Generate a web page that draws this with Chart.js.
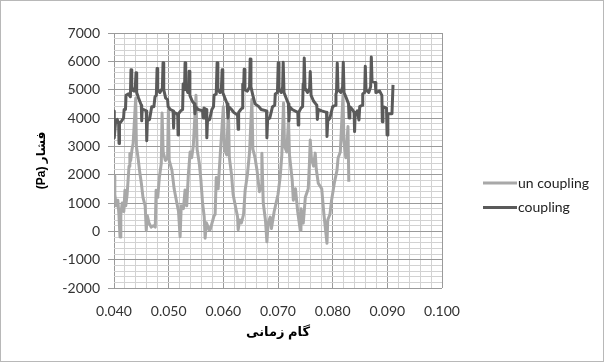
<!DOCTYPE html>
<html>
<head>
<meta charset="utf-8">
<script src="https://cdn.jsdelivr.net/npm/chart.js@4.4.1/dist/chart.umd.min.js"></script>
<style>
  html, body { margin: 0; padding: 0; background: #fff; }
  #box { width: 604px; height: 362px; box-sizing: border-box; border: 1px solid #b8b8b8; }
  canvas { display: block; }
</style>
</head>
<body>
<div id="box"><canvas id="pressure" width="602" height="360"></canvas></div>
<script>
// time step (s) and pressure (Pa)
let couplingTime = [
  0.04000, 0.04005, 0.04030, 0.04060, 0.04085, 0.04092, 0.04100, 0.04140,
  0.04175, 0.04185, 0.04210, 0.04220, 0.04260, 0.04300, 0.04311, 0.04325,
  0.04365, 0.04390, 0.04403, 0.04415, 0.04450, 0.04480, 0.04500, 0.04507,
  0.04515, 0.04540, 0.04590, 0.04599, 0.04610, 0.04650, 0.04690, 0.04730,
  0.04750, 0.04775, 0.04788, 0.04800, 0.04840, 0.04885, 0.04897, 0.04910,
  0.04945, 0.04980, 0.04990, 0.05030, 0.05081, 0.05090, 0.05100, 0.05150,
  0.05165, 0.05172, 0.05180, 0.05220, 0.05255, 0.05265, 0.05290, 0.05300,
  0.05312, 0.05350, 0.05365, 0.05374, 0.05388, 0.05430, 0.05470, 0.05480,
  0.05495, 0.05540, 0.05620, 0.05630, 0.05645, 0.05690, 0.05698, 0.05710,
  0.05750, 0.05790, 0.05820, 0.05830, 0.05870, 0.05886, 0.05900, 0.05940,
  0.05965, 0.05978, 0.05990, 0.06030, 0.06070, 0.06085, 0.06100, 0.06150,
  0.06190, 0.06260, 0.06271, 0.06280, 0.06320, 0.06345, 0.06355, 0.06370,
  0.06381, 0.06395, 0.06440, 0.06480, 0.06491, 0.06505, 0.06540, 0.06580,
  0.06650, 0.06692, 0.06790, 0.06797, 0.06810, 0.06850, 0.06900, 0.06940,
  0.06950, 0.06990, 0.07004, 0.07018, 0.07060, 0.07085, 0.07095, 0.07110,
  0.07150, 0.07190, 0.07200, 0.07212, 0.07260, 0.07362, 0.07370, 0.07380,
  0.07420, 0.07450, 0.07460, 0.07470, 0.07480, 0.07495, 0.07540, 0.07578,
  0.07590, 0.07605, 0.07650, 0.07690, 0.07710, 0.07720, 0.07735, 0.07800,
  0.07888, 0.07896, 0.07910, 0.07950, 0.08000, 0.08050, 0.08060, 0.08070,
  0.08084, 0.08098, 0.08150, 0.08182, 0.08194, 0.08208, 0.08250, 0.08290,
  0.08300, 0.08315, 0.08360, 0.08392, 0.08401, 0.08410, 0.08450, 0.08481,
  0.08495, 0.08540, 0.08550, 0.08585, 0.08597, 0.08610, 0.08660, 0.08695,
  0.08707, 0.08720, 0.08780, 0.08790, 0.08860, 0.08900, 0.08908, 0.08920,
  0.08985, 0.08995, 0.09010, 0.09085, 0.09104,
];
let couplingPa = [
  4250, 3300, 3900, 3950, 3800, 3100, 3800, 3900,
  4000, 4300, 4300, 4800, 4850, 4750, 5700, 5000,
  4950, 5100, 5600, 4900, 4700, 4550, 4450, 3900,
  4300, 4300, 4250, 3200, 3900, 3950, 4400, 4400,
  4750, 4800, 5750, 5000, 4900, 5050, 5950, 5000,
  4700, 4650, 4400, 4300, 4250, 3650, 4200, 4150,
  4100, 3400, 4150, 4250, 4300, 5200, 5000, 5950,
  5100, 4900, 5050, 5650, 4800, 4600, 4500, 4150,
  4400, 4300, 4250, 4000, 4350, 4300, 3300, 3900,
  3950, 4300, 4400, 4800, 4850, 5950, 5000, 4900,
  5050, 5700, 4900, 4700, 4500, 4000, 4400, 4300,
  4200, 4100, 3600, 4200, 4300, 4350, 5200, 5000,
  5720, 5000, 4950, 5100, 6080, 5100, 4800, 4500,
  4400, 4300, 4250, 3300, 3950, 4000, 4400, 4450,
  4850, 4900, 5950, 5000, 4900, 5100, 5970, 4900,
  4700, 4500, 3900, 4400, 4300, 4200, 3750, 4200,
  4350, 4400, 5200, 5000, 6120, 5050, 4900, 5050,
  5640, 4800, 4600, 4500, 4450, 3950, 4300, 4250,
  4200, 3350, 3900, 4000, 4400, 4450, 4850, 4900,
  5940, 5000, 4900, 5100, 5970, 4900, 4700, 4500,
  4000, 4400, 4300, 4200, 3520, 4100, 4250, 3930,
  4400, 4450, 4850, 4900, 5830, 5000, 4900, 5100,
  6150, 5300, 5250, 4900, 4950, 4800, 3870, 4400,
  4350, 3400, 4150, 4150, 5170,
];

let uncouplingTime = [
  0.04000, 0.04015, 0.04040, 0.04070, 0.04090, 0.04110, 0.04125, 0.04150,
  0.04180, 0.04200, 0.04215, 0.04240, 0.04275, 0.04290, 0.04305, 0.04330,
  0.04350, 0.04397, 0.04410, 0.04440, 0.04470, 0.04500, 0.04530, 0.04570,
  0.04590, 0.04610, 0.04640, 0.04680, 0.04720, 0.04755, 0.04770, 0.04800,
  0.04830, 0.04865, 0.04879, 0.04900, 0.04940, 0.04980, 0.04995, 0.05010,
  0.05060, 0.05100, 0.05150, 0.05180, 0.05209, 0.05230, 0.05270, 0.05300,
  0.05330, 0.05360, 0.05392, 0.05420, 0.05450, 0.05500, 0.05520, 0.05560,
  0.05590, 0.05620, 0.05650, 0.05667, 0.05690, 0.05740, 0.05760, 0.05830,
  0.05850, 0.05870, 0.05905, 0.05940, 0.06000, 0.06020, 0.06060, 0.06093,
  0.06110, 0.06150, 0.06179, 0.06230, 0.06260, 0.06271, 0.06300, 0.06330,
  0.06370, 0.06399, 0.06440, 0.06480, 0.06522, 0.06540, 0.06580, 0.06620,
  0.06660, 0.06690, 0.06705, 0.06730, 0.06770, 0.06797, 0.06820, 0.06857,
  0.06880, 0.06930, 0.07000, 0.07040, 0.07070, 0.07101, 0.07120, 0.07160,
  0.07192, 0.07210, 0.07260, 0.07280, 0.07320, 0.07360, 0.07407, 0.07420,
  0.07462, 0.07500, 0.07553, 0.07575, 0.07590, 0.07610, 0.07650, 0.07681,
  0.07700, 0.07736, 0.07800, 0.07840, 0.07896, 0.07910, 0.07950, 0.07980,
  0.08030, 0.08079, 0.08100, 0.08140, 0.08189, 0.08205, 0.08240, 0.08280,
  0.08295,
];
let uncouplingPa = [
  1950, 1300, 900, 1100, 600, -200, 600, 1000,
  700, 1450, 900, 1300, 2300, 2750, 2500, 2900,
  3100, 4700, 3000, 2600, 2100, 1700, 1200, 900,
  40, 550, 300, 150, 200, 150, 1450, 1200,
  1900, 2400, 4180, 2800, 2500, 2600, 4290, 2500,
  2150, 1500, 1000, 700, -190, 900, 800, 1460,
  900, 2000, 2800, 2600, 3000, 4800, 2900, 2400,
  1800, 1000, 520, -240, 300, 60, 60, 550,
  600, 1900, 1500, 2600, 4400, 2900, 2700, 4300,
  2600, 2000, 1300, 800, 520, 60, 400, 300,
  600, 1450, 2000, 2800, 4650, 2900, 2600, 2100,
  1400, 1600, 2760, 1000, 400, -370, 300, 500,
  100, 700, 1300, 1925, 2700, 4530, 3000, 2800,
  3930, 2700, 1800, 1100, 1500, 700, 40, 800,
  290, 1200, 1500, 2400, 3225, 2600, 2300, 2760,
  2200, 1700, 1500, 600, -420, 400, 600, 1100,
  1700, 2150, 2600, 2800, 4820, 3200, 2600, 3700,
  1750,
];

let seriesNames = ["un coupling", "coupling"];
let xTitle = "گام زمانی";
let yTitle = "(Pa) فشار";

let lightGrey = "#a8a8a8";
let darkGrey = "#5a5a5a";
let majorGrid = "#9a9a9a";
let minorGrid = "#d2d2d2";

function pairs(xs, ys) {
  return xs.map((t, i) => ({ x: t, y: ys[i] }));
}

// legend drawn at the right like the excel one
let sideLegend = {
  id: "sideLegend",
  afterDraw(chart) {
    let c = chart.ctx;
    chart.data.datasets.forEach((ds, i) => {
      let y = 182 + i * 24.5;
      c.save();
      c.strokeStyle = ds.borderColor;
      c.lineWidth = 3;
      c.beginPath();
      c.moveTo(482, y);
      c.lineTo(516, y);
      c.stroke();
      c.fillStyle = "#222";
      c.font = "14px Lato";
      c.textBaseline = "middle";
      c.fillText(ds.label, 517, y);
      c.restore();
    });
  },
};

let ctx = document.getElementById("pressure").getContext("2d");
let Pressure = new Chart(ctx, {
  type: "line",
  data: {
    datasets: [
      {
        label: seriesNames[0],
        data: pairs(uncouplingTime, uncouplingPa),
        borderColor: lightGrey,
        borderWidth: 3,
        pointRadius: 0,
        borderJoinStyle: "round",
        order: 2,
      },
      {
        label: seriesNames[1],
        data: pairs(couplingTime, couplingPa),
        borderColor: darkGrey,
        borderWidth: 3,
        pointRadius: 0,
        borderJoinStyle: "round",
        order: 1,
      },
    ],
  },
  options: {
    responsive: false,
    animation: false,
    layout: { padding: { left: 0, right: 161, top: 32, bottom: 0 } },
    plugins: { legend: { display: false }, tooltip: { enabled: false } },
    scales: {
      x: {
        type: "linear",
        min: 0.04,
        max: 0.1,
        afterFit: (s) => { s.height = 73; },
        border: { display: false },
        grid: {
          drawTicks: false,
          color: (c) => (c.tick && Math.round(c.tick.value * 1000) % 10 === 0 ? majorGrid : minorGrid),
        },
        ticks: {
          stepSize: 0.002,
          autoSkip: false,
          maxRotation: 0,
          minRotation: 0,
          padding: 15,
          color: "#333",
          font: { family: "Lato", size: 14 },
          callback: (v) => (Math.round(v * 1000) % 10 === 0 ? v.toFixed(3) : ""),
        },
        title: {
          display: true,
          text: xTitle,
          color: "#000",
          font: { family: "'Liberation Sans', 'DejaVu Sans'", size: 13, weight: "bold" },
          padding: { top: 0, bottom: 21 },
        },
      },
      y: {
        min: -2000,
        max: 7000,
        afterFit: (s) => { s.width = 113; },
        border: { display: false },
        grid: {
          tickLength: 6,
          color: (c) => (c.tick && c.tick.value % 1000 === 0 ? majorGrid : minorGrid),
          tickColor: (c) => (c.tick && c.tick.value % 1000 === 0 ? majorGrid : "rgba(0,0,0,0)"),
        },
        ticks: {
          stepSize: 200,
          autoSkip: false,
          padding: 8,
          color: "#333",
          font: { family: "Lato", size: 14 },
          callback: (v) => (v % 1000 === 0 ? String(v) : ""),
        },
        title: {
          display: true,
          text: yTitle,
          color: "#000",
          font: { family: "'Liberation Sans', 'DejaVu Sans'", size: 12, weight: "bold" },
          padding: { top: 33, bottom: 0 },
        },
      },
    },
  },
  plugins: [sideLegend],
});
</script>
</body>
</html>
